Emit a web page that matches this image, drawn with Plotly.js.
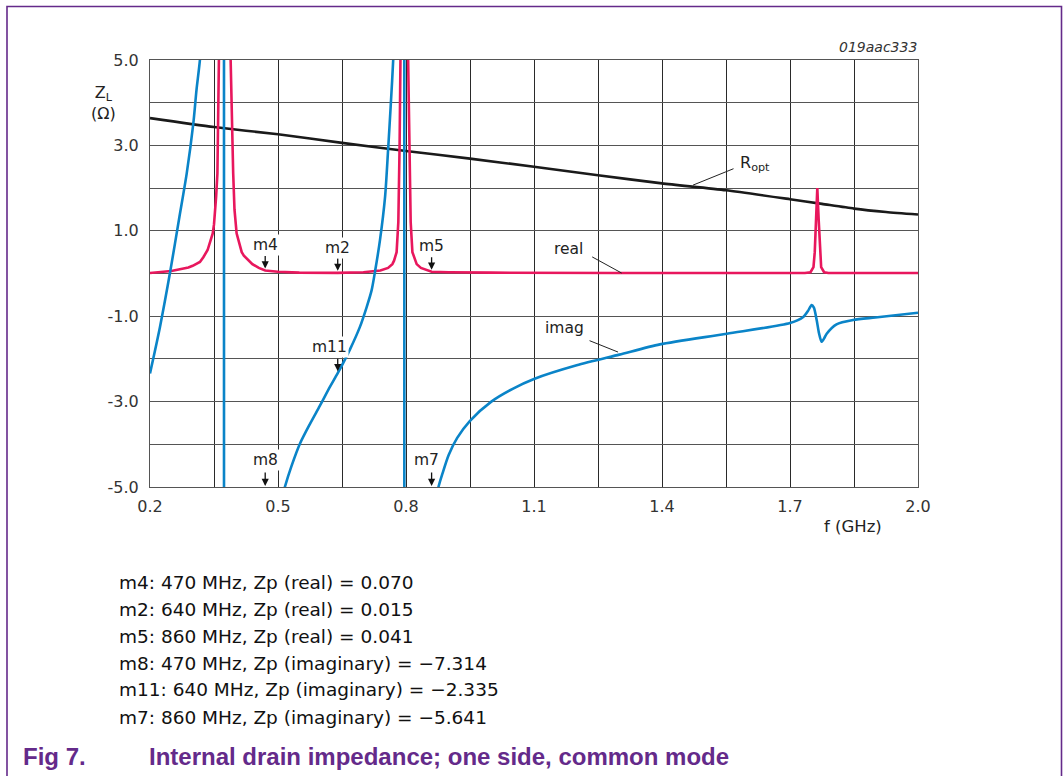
<!DOCTYPE html>
<html>
<head>
<meta charset="utf-8">
<script src="https://cdn.plot.ly/plotly-3.0.1.min.js"></script>
<style>html,body{margin:0;padding:0;background:#fff;}#chart{width:1063px;height:776px;}</style>
</head>
<body>
<div id="chart"></div>
<script>
// ---------------- data ----------------
const roptFreq = [0.2, 0.35, 0.5, 0.65, 0.8, 0.95, 1.1, 1.25, 1.4, 1.55, 1.7, 1.775, 1.85, 1.925, 2.0];
const roptVal  = [3.64, 3.43, 3.26, 3.06, 2.87, 2.69, 2.50, 2.30, 2.11, 1.95, 1.74, 1.63, 1.52, 1.44, 1.38];

const realFreq = [0.2, 0.25, 0.29, 0.30, 0.317, 0.325, 0.335, 0.34, 0.347, 0.35, 0.353, 0.355, 0.358, 0.3625, 0.367,
  0.372, 0.376, 0.38, 0.385, 0.389, 0.395, 0.398, 0.403, 0.41, 0.415, 0.42, 0.434, 0.44, 0.455, 0.47, 0.5, 0.55,
  0.64, 0.70, 0.74, 0.758, 0.768, 0.772, 0.778, 0.782, 0.785, 0.787, 0.791, 0.796, 0.801, 0.805, 0.808, 0.811,
  0.815, 0.82, 0.825, 0.835, 0.86, 0.9, 1.0, 1.3, 1.6, 1.735, 1.748, 1.755, 1.758, 1.761, 1.764, 1.767, 1.770,
  1.773, 1.78, 1.79, 1.9, 2.0];
const realVal  = [0.01, 0.06, 0.14, 0.18, 0.27, 0.38, 0.55, 0.7, 0.94, 1.15, 1.5, 1.8, 2.34, 5.0, 9,
  14, 16, 14, 9, 5.0, 2.34, 1.5, 0.94, 0.65, 0.5, 0.42, 0.27, 0.22, 0.13, 0.07, 0.04, 0.02,
  0.015, 0.03, 0.07, 0.13, 0.22, 0.3, 0.5, 1.2, 3.0, 5.0, 10, 14, 10, 5.0, 3.0, 1.2,
  0.5, 0.33, 0.22, 0.13, 0.041, 0.03, 0.02, 0.01, 0.01, 0.01, 0.03, 0.15, 0.5, 1.3, 2.0, 1.3, 0.5,
  0.15, 0.03, 0.01, 0.01, 0.01];

const imagFreq = [0.2, 0.2234, 0.248, 0.269, 0.286, 0.3016, 0.309, 0.317, 0.33, 0.345, 0.36, 0.368, 0.373, 0.3738,
  0.378, 0.39, 0.41, 0.44, 0.47, 0.5, 0.516, 0.532, 0.5516, 0.575, 0.598, 0.622, 0.64, 0.669, 0.692, 0.708, 0.7195,
  0.728, 0.739, 0.751, 0.758, 0.764, 0.77, 0.78, 0.79, 0.7955, 0.7965, 0.80, 0.81, 0.83, 0.86, 0.876, 0.885, 0.90,
  0.92, 0.95, 1.0, 1.05, 1.1, 1.2, 1.3, 1.395, 1.552, 1.7, 1.731, 1.742, 1.7506, 1.756, 1.7625, 1.768, 1.774,
  1.78, 1.786, 1.809, 1.848, 1.9, 2.0];
const imagVal  = [-2.34, -1.25, 0.08, 1.33, 2.34, 3.52, 4.3, 5.0, 6.8, 10, 18, 35, 90, -90,
  -40, -20, -13, -9, -7.314, -5.6, -5.0, -4.5, -3.98, -3.52, -3.1, -2.65, -2.335, -1.77, -1.25, -0.78, -0.39,
  0.08, 0.78, 1.8, 2.89, 3.9, 5.0, 8, 20, 90, -90, -40, -15, -8, -5.641, -5.0, -4.7, -4.25,
  -3.85, -3.45, -3.0, -2.7, -2.47, -2.15, -1.9, -1.66, -1.41, -1.16, -1.02, -0.88, -0.74, -0.8, -1.09, -1.40, -1.60,
  -1.52, -1.41, -1.19, -1.09, -1.03, -0.92];

// markers
const markerNames = ['m4', 'm2', 'm5', 'm8', 'm11', 'm7'];
const markerFreq  = [0.47, 0.64, 0.86, 0.47, 0.64, 0.86];
const markerVal   = [0.070, 0.015, 0.041, -7.314, -2.335, -5.641];

// ticks
const xTickVals = [0.2, 0.35, 0.5, 0.65, 0.8, 0.95, 1.1, 1.25, 1.4, 1.55, 1.7, 1.85, 2.0];
const xTickText = ['0.2', '', '0.5', '', '0.8', '', '1.1', '', '1.4', '', '1.7', '', '2.0'];
const yTickVals = [-5, -4, -3, -2, -1, 0, 1, 2, 3, 4, 5];
const yTickText = ['-5.0', '', '-3.0', '', '-1.0', '', '1.0', '', '3.0', '', '5.0'];

const noteLines = [
  'm4: 470 MHz, Zp (real) = 0.070',
  'm2: 640 MHz, Zp (real) = 0.015',
  'm5: 860 MHz, Zp (real) = 0.041',
  'm8: 470 MHz, Zp (imaginary) = \u22127.314',
  'm11: 640 MHz, Zp (imaginary) = \u22122.335',
  'm7: 860 MHz, Zp (imaginary) = \u22125.641'
];

// ---------------- layout helpers ----------------
const W = 1063, H = 776;
const L = 150, R = 918, T = 60, B = 487;
const px = x => (x - L) / (R - L);
const py = y => (B - y) / (B - T);
const FONT = 'DejaVu Sans, Verdana, sans-serif';
const CAPFONT = 'Liberation Sans, Arial, Helvetica, sans-serif';
const RED = '#e8175d', BLUE = '#0a84c8', BLACK = '#1a1a1a';
const PURPLE = '#642a8a';
const TXT = '#222';

const traces = [
  {x: roptFreq, y: roptVal, mode: 'lines', line: {color: BLACK, width: 2.6, shape: 'spline', smoothing: 0.6}, hoverinfo: 'skip'},
  {x: realFreq, y: realVal, mode: 'lines', line: {color: RED, width: 2.6}, hoverinfo: 'skip'},
  {x: imagFreq, y: imagVal, mode: 'lines', line: {color: BLUE, width: 2.6, shape: 'spline', smoothing: 0.7}, hoverinfo: 'skip'}
];

const annotations = [];
const yMin = -5, yMax = 5;
const textShift = {m4: [0, 27], m2: [0, 26], m5: [0, 27], m8: [0, 27], m11: [-8, 27], m7: [-5, 27]};
markerNames.forEach((n, i) => {
  const yv = Math.max(yMin, Math.min(yMax, markerVal[i]));
  const isBottom = markerVal[i] < yMin;
  annotations.push({x: markerFreq[i], y: yv, xref: 'x', yref: 'y', text: '', showarrow: true,
    ax: 0, ay: -16, arrowhead: 2, arrowsize: 1.1, arrowwidth: 1.3, arrowcolor: '#111',
    standoff: isBottom ? 1 : 2});
  const sh = textShift[n];
  annotations.push({x: markerFreq[i], y: yv, xref: 'x', yref: 'y', text: n, showarrow: false,
    xshift: sh[0], yshift: sh[1] - (isBottom ? 0 : 1), font: {family: FONT, size: 15.5, color: TXT},
    bgcolor: 'rgba(255,255,255,1)', borderpad: 1});
});

// curve labels with leader lines
annotations.push({x: 1.4727, y: 2.07, xref: 'x', yref: 'y', text: '', showarrow: true,
  ax: 42, ay: -17, arrowhead: 0, arrowwidth: 1, arrowcolor: '#222'});
annotations.push({x: px(738), y: py(163), xref: 'paper', yref: 'paper', xanchor: 'left', yanchor: 'middle',
  text: 'R<sub>opt</sub>', showarrow: false, font: {family: FONT, size: 16, color: TXT}});
annotations.push({x: 1.3055, y: 0.01, xref: 'x', yref: 'y', text: '', showarrow: true,
  ax: -31, ay: -17, arrowhead: 0, arrowwidth: 1, arrowcolor: '#222'});
annotations.push({x: px(568), y: py(249), xref: 'paper', yref: 'paper', xanchor: 'center', yanchor: 'middle',
  text: 'real', showarrow: false, font: {family: FONT, size: 15.5, color: TXT}});
annotations.push({x: 1.297, y: -1.84, xref: 'x', yref: 'y', text: '', showarrow: true,
  ax: -30, ay: -12, arrowhead: 0, arrowwidth: 1, arrowcolor: '#222'});
annotations.push({x: px(564), y: py(328), xref: 'paper', yref: 'paper', xanchor: 'center', yanchor: 'middle',
  text: 'imag', showarrow: false, font: {family: FONT, size: 15.5, color: TXT}});

// axis titles and code
annotations.push({x: px(103), y: py(103), xref: 'paper', yref: 'paper', xanchor: 'center', yanchor: 'middle',
  text: 'Z<sub>L</sub><br>(\u03a9)', showarrow: false, font: {family: FONT, size: 16, color: TXT}});
annotations.push({x: px(853), y: py(526), xref: 'paper', yref: 'paper', xanchor: 'center', yanchor: 'middle',
  text: 'f (GHz)', showarrow: false, font: {family: FONT, size: 16.5, color: TXT}});
annotations.push({x: px(919), y: py(47), xref: 'paper', yref: 'paper', xanchor: 'right', yanchor: 'middle',
  text: '<i>019aac333</i>', showarrow: false, font: {family: FONT, size: 14, color: '#333'}});

// notes
noteLines.forEach((t, i) => {
  annotations.push({x: px(117), y: py(582 + i * 27), xref: 'paper', yref: 'paper', xanchor: 'left', yanchor: 'middle',
    text: t, showarrow: false, font: {family: FONT, size: 18.5, color: '#111'}});
});
// caption
annotations.push({x: px(21), y: py(756), xref: 'paper', yref: 'paper', xanchor: 'left', yanchor: 'middle',
  text: '<b>Fig 7.</b>', showarrow: false, font: {family: CAPFONT, size: 24, color: PURPLE}});
annotations.push({x: px(147), y: py(756), xref: 'paper', yref: 'paper', xanchor: 'left', yanchor: 'middle',
  text: '<b>Internal drain impedance; one side, common mode</b>', showarrow: false,
  font: {family: CAPFONT, size: 24, color: PURPLE}});

const shapes = [
  {type: 'path', xref: 'paper', yref: 'paper',
   path: `M ${px(7)} ${py(800)} L ${px(7)} ${py(6.5)} L ${px(1061.5)} ${py(6.5)} L ${px(1061.5)} ${py(800)}`,
   line: {color: PURPLE, width: 1.6}}
];

const layout = {
  width: W, height: H,
  margin: {l: L, r: W - R, t: T, b: H - B, pad: 0},
  paper_bgcolor: '#fff', plot_bgcolor: '#fff',
  showlegend: false,
  font: {family: FONT, size: 16, color: '#333'},
  xaxis: {range: [0.2, 2.0], tickmode: 'array', tickvals: xTickVals, ticktext: xTickText,
    showgrid: true, gridcolor: '#2a2a2a', gridwidth: 1, zeroline: false,
    showline: true, mirror: true, linecolor: '#555', linewidth: 1, ticks: '', ticklabelstandoff: 5,
    tickfont: {family: FONT, size: 16, color: '#333'}},
  yaxis: {range: [-5, 5], tickmode: 'array', tickvals: yTickVals, ticktext: yTickText,
    showgrid: true, gridcolor: '#555', gridwidth: 1, zeroline: false,
    showline: true, mirror: true, linecolor: '#555', linewidth: 1, ticks: '', ticklabelstandoff: 7,
    tickfont: {family: FONT, size: 16, color: '#333'}},
  annotations: annotations,
  shapes: shapes
};

Plotly.newPlot('chart', traces, layout, {displayModeBar: false, staticPlot: true});
</script>
</body>
</html>
